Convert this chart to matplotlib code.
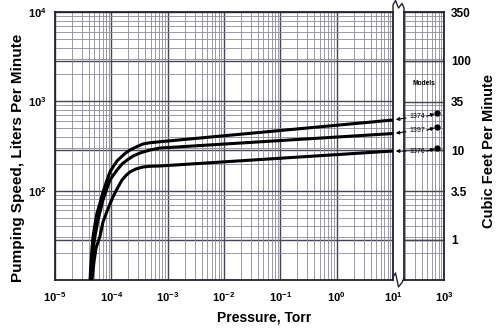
import numpy as np
import matplotlib
matplotlib.use("Agg")
import matplotlib.pyplot as plt
from matplotlib.ticker import LogLocator, NullFormatter, FixedLocator

plt.rcParams['font.family'] = ['Liberation Sans', 'DejaVu Sans']
plt.rcParams['font.weight'] = 'bold'
plt.rcParams['mathtext.fontset'] = 'custom'
plt.rcParams['mathtext.rm'] = 'Liberation Sans:bold'
plt.rcParams['mathtext.it'] = 'Liberation Sans:bold'
plt.rcParams['mathtext.bf'] = 'Liberation Sans:bold'

# pumping speed curves (pressure in Torr, speed in L/min)
p_1374 = [4.18e-5, 4.36e-5, 4.54e-5, 4.73e-5, 5.13e-5, 5.57e-5, 6.3e-5, 7.11e-5, 8.4e-5,
          9.46e-5, 1.07e-4, 1.26e-4, 1.43e-4, 1.75e-4, 2.14e-4, 2.86e-4, 3.65e-4, 4.85e-4,
          7.3e-4, 10]
s_1374 = [10, 15.9, 22.8, 30.3, 42.4, 56.2, 72.8, 96.6, 132,
          162, 184, 215, 232, 261, 285, 312, 333, 344,
          353, 618]
p_1397 = [4.36e-5, 4.54e-5, 4.73e-5, 5.13e-5, 5.8e-5, 7.11e-5, 8.4e-5, 9.46e-5, 1.26e-4,
          1.55e-4, 1.9e-4, 2.43e-4, 3.23e-4, 4.85e-4, 7.3e-4, 10]
s_1397 = [10, 15.9, 21.7, 31, 47, 78.6, 107, 132, 170,
          199, 220, 244, 264, 285, 300, 436]
p_1376 = [4.54e-5, 4.92e-5, 5.35e-5, 6.3e-5, 7.11e-5, 8.4e-5, 9.46e-5, 1.07e-4, 1.26e-4,
          1.55e-4, 1.82e-4, 2.14e-4, 2.74e-4, 3.65e-4, 4.85e-4, 7.3e-4, 10]
s_1376 = [10, 15.9, 22.8, 31, 44.6, 59, 71, 85, 104.5,
          132, 148, 162, 175, 184, 187.5, 189, 278]

models = ['1374', '1397', '1376']
atm_p = 760
atm_s = [740, 516, 301]

x_ticks = [1e-5, 1e-4, 1e-3, 1e-2, 1e-1, 1e0, 1e1]
x_labels = ['$10^{-5}$', '$10^{-4}$', '$10^{-3}$', '$10^{-2}$', '$10^{-1}$', '$10^{0}$', '$10^{1}$']
y_ticks = [1e2, 1e3, 1e4]
y_labels = ['$10^{2}$', '$10^{3}$', '$10^{4}$']
cfm_ticks = [350, 100, 35, 10, 3.5, 1]
cfm_labels = ['350', '100', '35', '10', '3.5', '1']
L_PER_CFM = 28.317

W, H = 500, 332
fig = plt.figure(figsize=(W / 100, H / 100), dpi=100)
fig.patch.set_facecolor('white')

ax = fig.add_axes([55 / W, 1 - 280 / H, 338 / W, 268 / H])
axr = fig.add_axes([404 / W, 1 - 280 / H, 40 / W, 268 / H])

minor_c = '#8a8a9a'
major_c = '#454555'

for a in (ax, axr):
    a.set_xscale('log')
    a.set_yscale('log')
    a.set_ylim(10, 1e4)
    a.xaxis.set_minor_locator(LogLocator(base=10, subs=np.arange(2, 10), numticks=50))
    a.yaxis.set_minor_locator(LogLocator(base=10, subs=np.arange(2, 10), numticks=50))
    a.xaxis.set_minor_formatter(NullFormatter())
    a.yaxis.set_minor_formatter(NullFormatter())
    a.grid(which='minor', color=minor_c, lw=0.6)
    a.grid(which='major', color=major_c, lw=1.0)
    a.tick_params(which='both', length=0)
    for sp in a.spines.values():
        sp.set_linewidth(1.3)
        sp.set_color('#222230')
    a.set_axisbelow(True)
    for c in (100, 10, 1):
        a.axhline(c * L_PER_CFM, color=major_c, lw=1.0, zorder=0.5)

ax.set_xlim(1e-5, 1e1)
ax.set_xticks(x_ticks)
ax.set_xticklabels(x_labels, fontsize=8)
ax.set_yticks(y_ticks)
ax.set_yticklabels(y_labels, fontsize=8)
ax.tick_params(axis='x', pad=7)
ax.tick_params(axis='y', pad=6)

axr.set_xlim(195, 1e3)
axr.set_xticks([1e3])
axr.set_xticklabels(['$10^{3}$'], fontsize=8)
axr.tick_params(axis='x', pad=7)
axr.yaxis.set_major_locator(FixedLocator([c * L_PER_CFM for c in cfm_ticks]))
axr.set_yticklabels(cfm_labels, fontsize=8.5)
axr.tick_params(axis='y', left=False, labelleft=False, right=True, labelright=True, pad=5)
axr.grid(which='major', axis='x', color=major_c, lw=1.0)

# curves
for p, s in ((p_1374, s_1374), (p_1397, s_1397), (p_1376, s_1376)):
    ax.plot(p, s, color='black', lw=2.2, solid_capstyle='butt', solid_joinstyle='round',
            clip_on=False, zorder=3)

# dots at atmosphere
axr.plot([atm_p] * 3, atm_s, 'o', color='black', ms=3.5, zorder=4, clip_on=False)

# model labels with arrows
axr.text(0.5, 0.735, 'Models', transform=axr.transAxes, ha='center', va='center', fontsize=4.8)
ends = [s_1374[-1], s_1397[-1], s_1376[-1]]
for name, s_end, s_atm in zip(models, ends, atm_s):
    tx = 0.33
    ty_disp = axr.transData.transform((atm_p, s_atm))
    tpos = axr.transAxes.inverted().transform(ty_disp)
    axr.annotate(name, xy=(10, s_end), xycoords=ax.transData,
                 xytext=(tx, tpos[1] - 0.012), textcoords=axr.transAxes,
                 fontsize=5, fontweight='normal', ha='center', va='center',
                 arrowprops=dict(arrowstyle='-|>', color='black', lw=0.8,
                                 mutation_scale=5, shrinkA=0.5, shrinkB=2),
                 annotation_clip=False, zorder=5)
    axr.annotate('', xy=(atm_p, s_atm), xycoords='data',
                 xytext=(tx + 0.24, tpos[1] - 0.012), textcoords=axr.transAxes,
                 arrowprops=dict(arrowstyle='-|>', color='black', lw=0.8,
                                 mutation_scale=5, shrinkA=0, shrinkB=2),
                 annotation_clip=False, zorder=5)

# axis break marks
def fx(px):
    return px / W

def fy(py):
    return 1 - py / H

for pts in ([(393, 12), (393, 5), (395.5, 0.5), (398.5, 8), (402, 3.5), (404, 8), (404, 12)],
            [(393, 280), (393, 277), (395.5, 273), (398.5, 287), (402, 282.5), (404, 278), (404, 280)]):
    xs = [fx(a) for a, b in pts]
    ys = [fy(b) for a, b in pts]
    fig.add_artist(plt.Line2D(xs, ys, color='#222230', lw=1.0, transform=fig.transFigure))

fig.text(18 / W, fy(158), 'Pumping Speed, Liters Per Minute', rotation=90,
         ha='center', va='center', fontsize=11)
fig.text(489 / W, fy(151), 'Cubic Feet Per Minute', rotation=90,
         ha='center', va='center', fontsize=10.5)
fig.text(264 / W, fy(318), 'Pressure, Torr', ha='center', va='center', fontsize=10)

fig.savefig('out.png', dpi=100)
